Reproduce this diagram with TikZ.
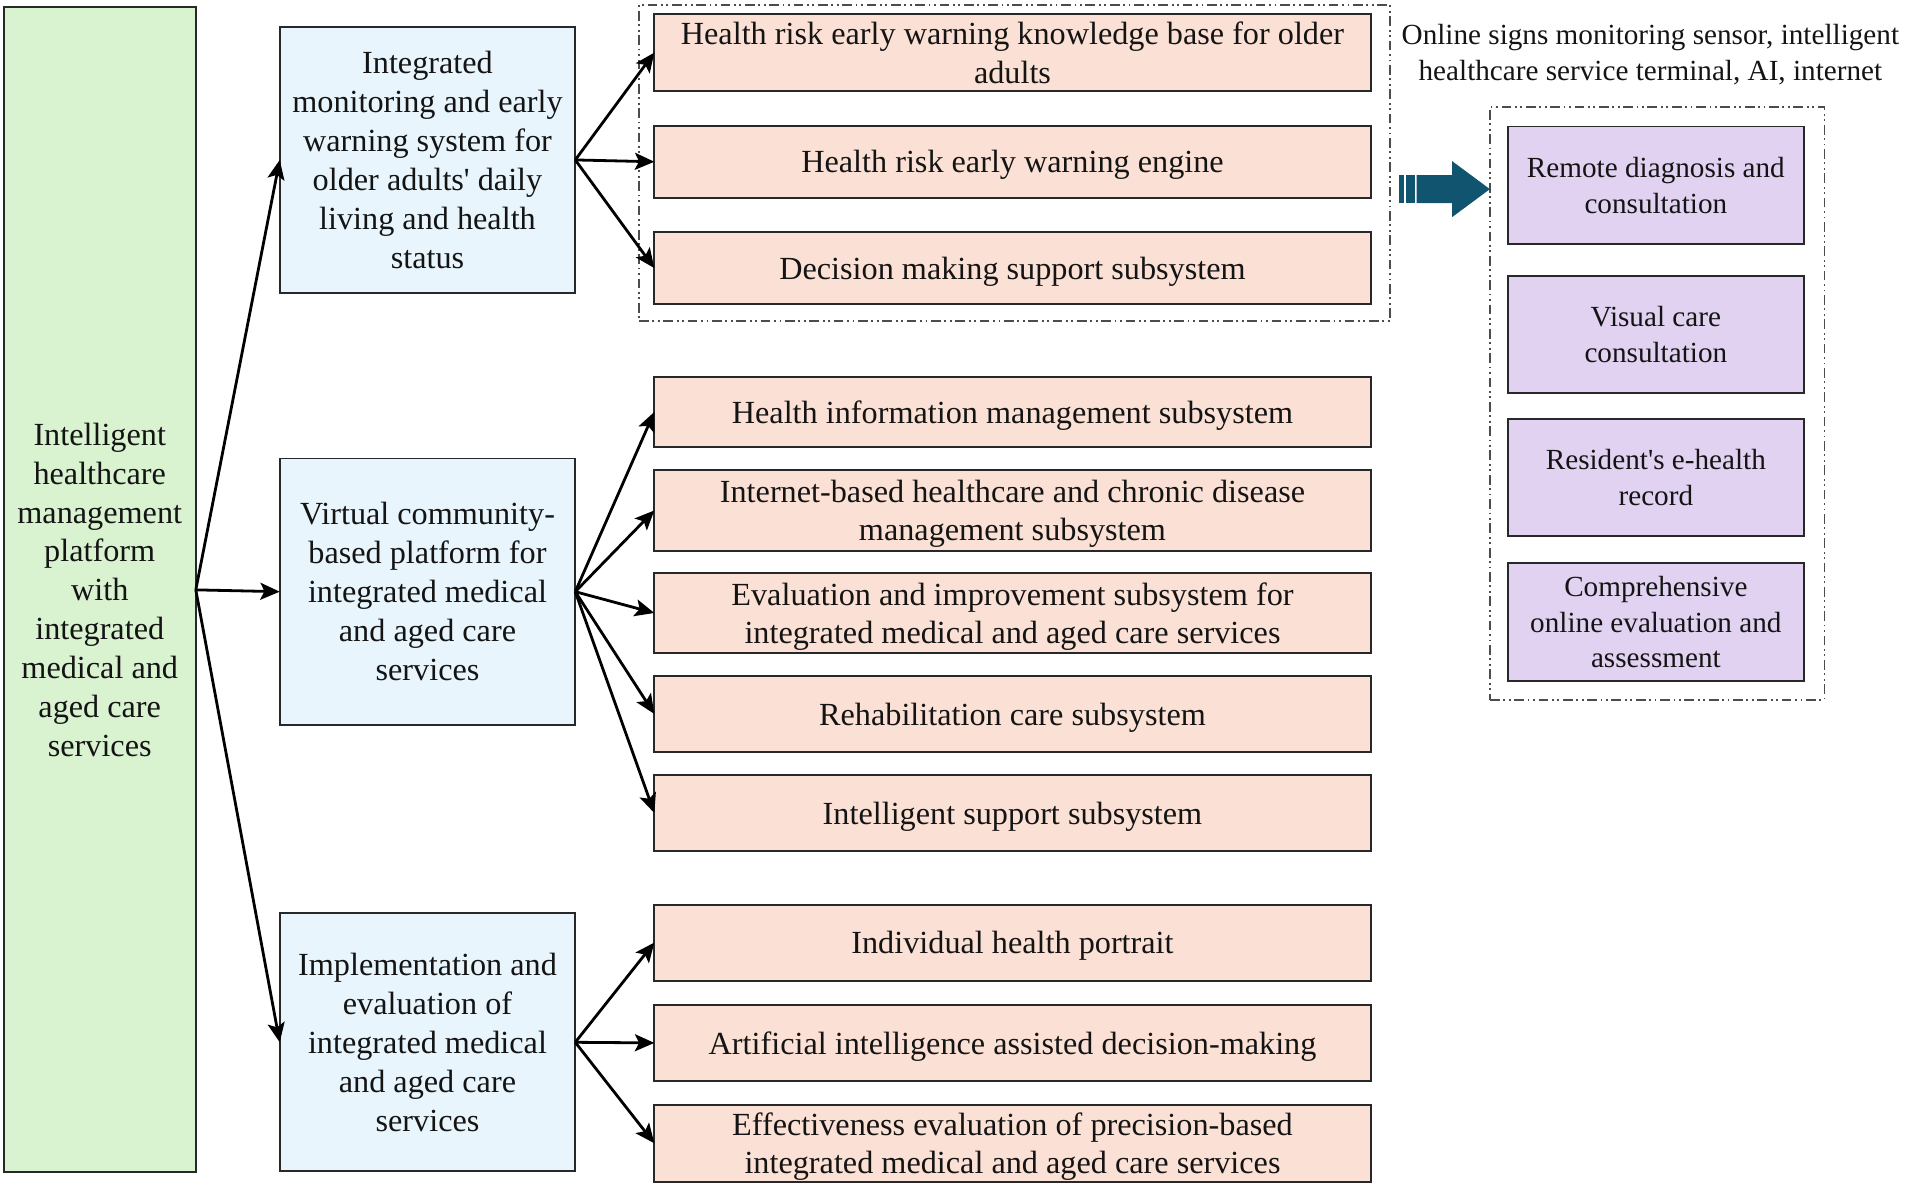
\documentclass[tikz,border=0pt]{standalone}
\usepackage{fontspec}
\setmainfont{Liberation Serif}[Ligatures=TeXOff]
\usetikzlibrary{arrows.meta}
\definecolor{gfill}{RGB}{217,242,208}
\definecolor{bfill}{RGB}{232,245,252}
\definecolor{ofill}{RGB}{251,225,213}
\definecolor{pfill}{RGB}{225,210,241}
\definecolor{edge}{RGB}{40,40,40}
\definecolor{teal}{RGB}{17,84,112}
\definecolor{txt}{RGB}{20,20,20}
\begin{document}
\begin{tikzpicture}[x=1pt,y=-1pt,
  box/.style={draw=edge,line width=1.6pt,inner sep=0pt,outer sep=0pt,align=center,text=txt,
    font=\fontsize{26.5}{32}\selectfont},
  gbox/.style={box,fill=gfill,minimum width=158pt,minimum height=958pt},
  bbox/.style={box,fill=bfill,minimum width=243pt},
  obox/.style={box,fill=ofill,minimum width=589pt,text depth=0pt,font=\fontsize{26.5}{31.5}\selectfont},
  pbox/.style={box,fill=pfill,minimum width=243pt,font=\fontsize{24}{29.5}\selectfont},
  dbox/.style={draw=black!70,line width=1.1pt,inner sep=0pt,outer sep=0pt,
    dash pattern=on 8pt off 3pt on 1.5pt off 3pt on 1.5pt off 3pt},
  arr/.style={draw=black,line width=2.3pt,-{Stealth[length=16pt,width=14pt,inset=3.5pt]}},
  lbl/.style={align=center,text=txt,inner sep=0pt,font=\fontsize{24}{30}\selectfont}
]
\useasboundingbox (0,0) rectangle (1568,975);

% dashed groups
\node[dbox,minimum width=617.5pt,minimum height=260pt] (D1) at (834.25,134) {};
\node[dbox,minimum width=275pt,minimum height=487.6pt] (D2) at (1362.5,331.8) {};

% main left box
\node[gbox] (G) at (82,485) {Intelligent\\healthcare\\management\\platform\\with\\integrated\\medical and\\aged care\\services};

% blue boxes
\node[bbox,minimum height=219pt] (B1) at (351.5,131.5) {Integrated\\monitoring and early\\warning system for\\older adults' daily\\living and health\\status};
\node[bbox,minimum height=219pt] (B2) at (351.5,486.5) {Virtual community-\\based platform for\\integrated medical\\and aged care\\services};
\node[bbox,minimum height=212pt] (B3) at (351.5,857) {Implementation and\\evaluation of\\integrated medical\\and aged care\\services};

% orange boxes
\node[obox,minimum height=63.5pt] (O1) at (832.5,43.25) {Health risk early warning knowledge base for older\\adults};
\node[obox,minimum height=59pt] (O2) at (832.5,133) {Health risk early warning engine};
\node[obox,minimum height=59pt] (O3) at (832.5,220.4) {Decision making support subsystem};
\node[obox,minimum height=58pt] (O4) at (832.5,338.7) {Health information management subsystem};
\node[obox,minimum height=66.5pt] (O5) at (832.5,419.7) {Internet-based healthcare and chronic disease\\management subsystem};
\node[obox,minimum height=66pt] (O6) at (832.5,504) {Evaluation and improvement subsystem for\\integrated medical and aged care services};
\node[obox,minimum height=62pt] (O7) at (832.5,587) {Rehabilitation care subsystem};
\node[obox,minimum height=63pt] (O8) at (832.5,668.5) {Intelligent support subsystem};
\node[obox,minimum height=62.5pt] (O9) at (832.5,775) {Individual health portrait};
\node[obox,minimum height=63pt] (O10) at (832.5,857.5) {Artificial intelligence assisted decision-making};
\node[obox,minimum height=63.5pt] (O11) at (832.5,940) {Effectiveness evaluation of precision-based\\integrated medical and aged care services};

% label
\node[lbl] (L) at (1357,45) {Online signs monitoring sensor, intelligent\\healthcare service terminal, AI, internet};

% purple boxes
\node[pbox,minimum height=96.6pt] (P1) at (1361.5,152.3) {Remote diagnosis and\\consultation};
\node[pbox,minimum height=96pt] (P2) at (1361.5,275) {Visual care\\consultation};
\node[pbox,minimum height=96pt] (P3) at (1361.5,392.6) {Resident's e-health\\record};
\node[pbox,minimum height=97pt] (P4) at (1361.5,511.5) {Comprehensive\\online evaluation and\\assessment};

% big block arrow
\fill[teal] (1150.5,144) rectangle (1154.6,167);
\fill[teal] (1155.7,144) rectangle (1163.6,167);
\fill[teal] (1164.8,144) -- (1194,144) -- (1194,132.5) -- (1225,155.5) -- (1194,178.5) -- (1194,167) -- (1164.8,167) -- cycle;

% connectors
\draw[arr] (G.east) -- (B1.west);
\draw[arr] (G.east) -- (B2.west);
\draw[arr] (G.east) -- (B3.west);
\foreach \o in {O1,O2,O3} \draw[arr] (B1.east) -- (\o.west);
\foreach \o in {O4,O5,O6,O7,O8} \draw[arr] (B2.east) -- (\o.west);
\foreach \o in {O9,O10,O11} \draw[arr] (B3.east) -- (\o.west);
\end{tikzpicture}
\end{document}
